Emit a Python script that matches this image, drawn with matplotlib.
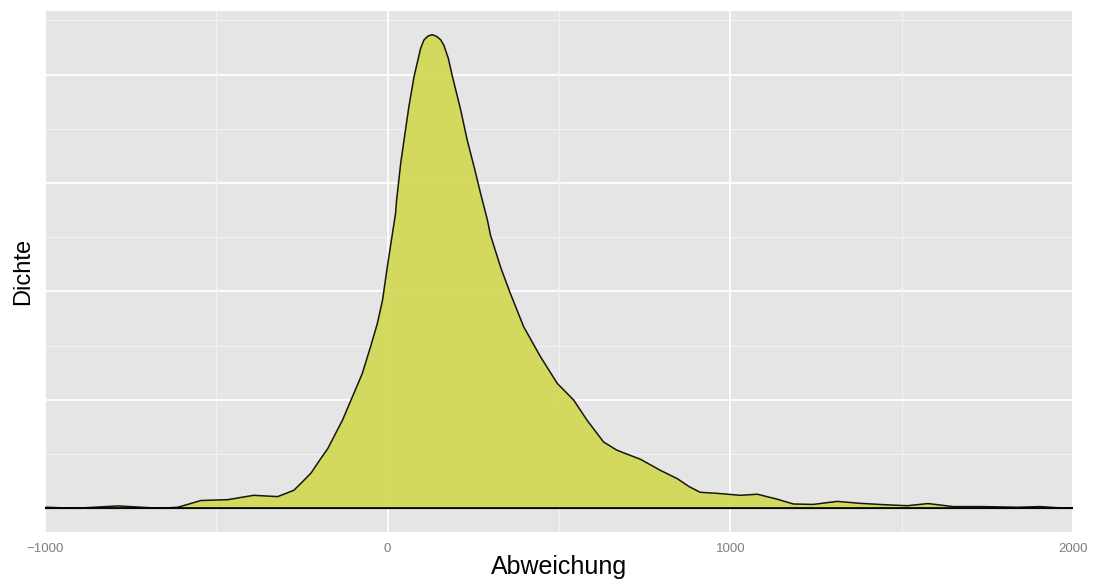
import numpy as np
import matplotlib
matplotlib.use("Agg")
import matplotlib.pyplot as plt

# Abweichung (x) und geschaetzte Dichte (in 1e-3)
abweichung = [-1000, -997, -915, -787, -662, -612, -545, -466, -391, -321, -274,
              -254, -224, -195, -175, -132, -103, -74, -50, -30, -15, -1, 14,
              23, 26, 38, 52, 62, 77, 96, 106, 118, 130, 143, 155, 164, 177,
              189, 213, 232, 252, 271, 291, 300, 330, 358, 397, 446, 495, 543,
              582, 630, 669, 738, 796, 846, 880, 912, 962, 1029, 1079, 1137,
              1184, 1242, 1312, 1379, 1446, 1516, 1577, 1650, 1738, 1837, 1904,
              1953, 2000]
dichte = [0.0, 0.005, 0.0, 0.011, 0.0, 0.005, 0.036, 0.040, 0.060, 0.054, 0.083,
          0.114, 0.162, 0.230, 0.275, 0.406, 0.514, 0.622, 0.745, 0.853, 0.960,
          1.114, 1.268, 1.360, 1.420, 1.591, 1.745, 1.853, 1.991, 2.120, 2.160,
          2.178, 2.184, 2.176, 2.160, 2.135, 2.075, 1.991, 1.838, 1.699, 1.576,
          1.453, 1.330, 1.260, 1.110, 0.991, 0.837, 0.699, 0.576, 0.499, 0.406,
          0.306, 0.268, 0.226, 0.175, 0.136, 0.100, 0.074, 0.069, 0.060, 0.065,
          0.042, 0.020, 0.018, 0.032, 0.023, 0.017, 0.012, 0.022, 0.008, 0.008,
          0.005, 0.008, 0.003, 0.0]

x_ticks = [-1000, 0, 1000, 2000]
x_labels = ["\u22121000", "0", "1000", "2000"]

x = np.array(abweichung)
y = np.array(dichte) * 1e-3

plt.rcParams["font.family"] = ["Liberation Sans", "DejaVu Sans"]

fig = plt.figure(figsize=(10.93, 5.81), dpi=100)
ax = fig.add_axes([45 / 1093, 49 / 581, 1028 / 1093, 521 / 581])
ax.set_facecolor("#E5E5E5")

# gitter wie ggplot
for yv in np.arange(0.00025, 0.0025, 0.0005):
    ax.axhline(yv, color="#F2F2F2", lw=0.9, zorder=0)
for yv in np.arange(0, 0.0025, 0.0005):
    ax.axhline(yv, color="white", lw=1.3, zorder=0)
for xv in [-500, 500, 1500]:
    ax.axvline(xv, color="#F2F2F2", lw=0.9, zorder=0)
for xv in x_ticks:
    ax.axvline(xv, color="white", lw=1.3, zorder=0)

ax.fill(x, y, facecolor="#D1D74F", alpha=0.9, edgecolor="black", lw=1.1,
        joinstyle="round", zorder=2)
ax.plot([-1000, 2000], [0, 0], color="black", lw=1.1, zorder=3)

ymax = y.max()
ax.set_xlim(-1000, 2000)
ax.set_ylim(-0.05 * ymax, ymax * 1.05)
ax.set_xticks(x_ticks)
ax.set_xticklabels(x_labels, color="#7F7F7F", fontsize=9.5)
ax.set_yticks([])
ax.tick_params(axis="x", length=0, pad=8)
for s in ax.spines.values():
    s.set_visible(False)

ax.set_xlabel("Abweichung", fontsize=18, labelpad=0)
ax.set_ylabel("Dichte", fontsize=17, labelpad=8)

fig.savefig("out.png", dpi=100)
